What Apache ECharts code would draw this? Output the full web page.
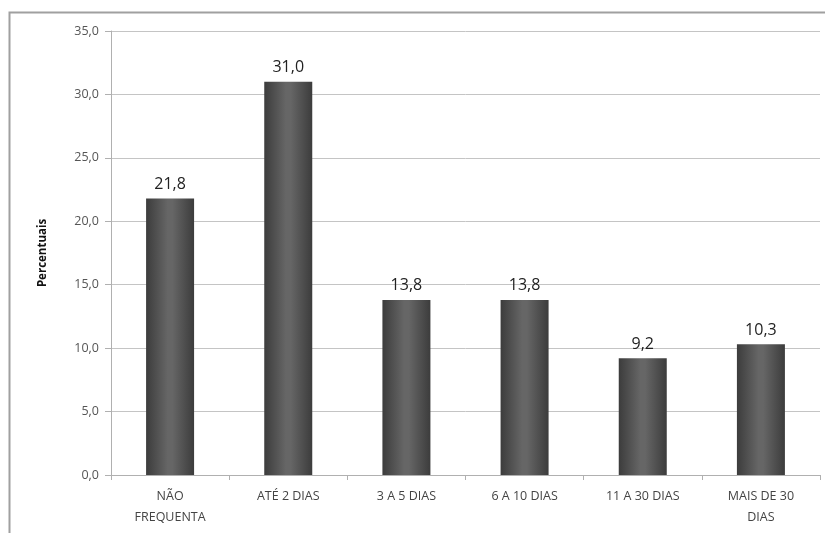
<!DOCTYPE html>
<html><head><meta charset="utf-8">
<script src="https://cdn.jsdelivr.net/npm/echarts@6/dist/echarts.min.js"></script>
<style>html,body{margin:0;padding:0;background:#fff}#c{width:825px;height:533px}</style>
</head><body><div id="c"></div>
<script>
const categories = ['NÃO\nFREQUENTA', 'ATÉ 2 DIAS', '3 A 5 DIAS', '6 A 10 DIAS', '11 A 30 DIAS', 'MAIS DE 30\nDIAS'];
const values = [21.8, 31.0, 13.8, 13.8, 9.2, 10.3];
const yAxisName = 'Percentuais';

const chart = echarts.init(document.getElementById('c'));
const fmt = v => v.toFixed(1).replace('.', ',');
chart.setOption({
  animation: false,
  backgroundColor: '#fff',
  graphic: [{
    type: 'rect', shape: {x: 9.5, y: 12.5, width: 830, height: 540},
    style: {fill: 'none', stroke: '#a0a0a0', lineWidth: 2}, z: -1
  }],
  grid: {left: 111, right: 5, top: 31, bottom: 58},
  xAxis: {
    type: 'category', data: categories,
    axisLine: {lineStyle: {color: '#b0b0b0'}},
    axisTick: {show: true, alignWithLabel: false, length: 5, lineStyle: {color: '#b0b0b0'}},
    axisLabel: {color: '#444', fontFamily: 'Open Sans, sans-serif', fontSize: 12.5, margin: 11, lineHeight: 21, interval: 0}
  },
  yAxis: {
    type: 'value', min: 0, max: 35, interval: 5,
    name: yAxisName, nameLocation: 'middle', nameRotate: 90, nameGap: 62,
    nameTextStyle: {color: '#111', fontFamily: 'Open Sans, sans-serif', fontSize: 11.5, fontWeight: 'bold'},
    axisLine: {show: true, lineStyle: {color: '#b0b0b0'}},
    axisTick: {show: true, length: 6, lineStyle: {color: '#b0b0b0'}},
    splitLine: {lineStyle: {color: '#c4c4c4'}},
    axisLabel: {color: '#555', fontFamily: 'Open Sans, sans-serif', fontSize: 12.5, margin: 12, formatter: fmt}
  },
  series: [{
    type: 'bar', data: values, barWidth: 48,
    itemStyle: {
      color: new echarts.graphic.LinearGradient(0, 0, 1, 0, [
        {offset: 0, color: '#3c3c3c'},
        {offset: 0.45, color: '#666'},
        {offset: 0.55, color: '#666'},
        {offset: 1, color: '#3c3c3c'}
      ]),
      borderColor: '#505050', borderWidth: 0
    },
    label: {show: true, position: 'top', distance: 6, color: '#222', fontFamily: 'Open Sans, sans-serif', fontSize: 16, formatter: p => fmt(p.value)}
  }]
});
</script></body></html>
